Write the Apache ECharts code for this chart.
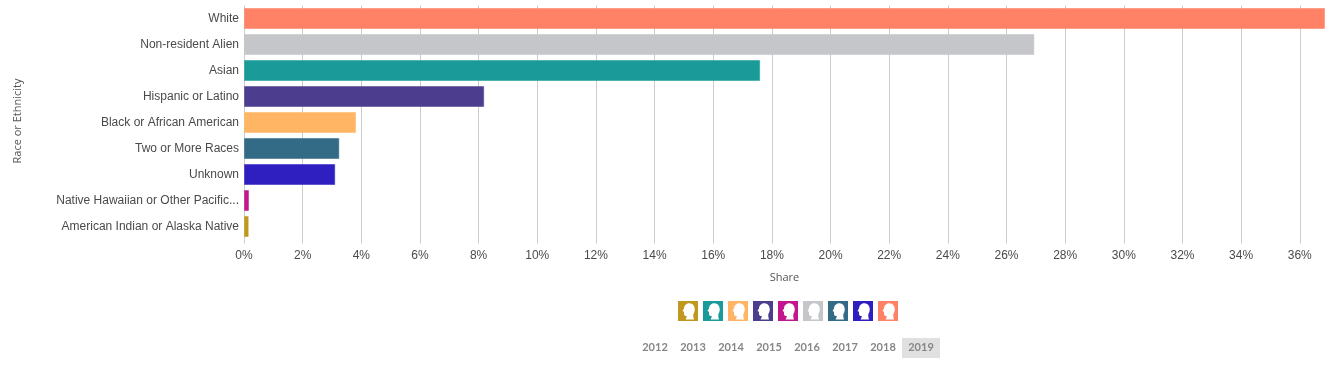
<!DOCTYPE html>
<html><head><meta charset="utf-8">
<style>html,body{margin:0;padding:0;background:#fff}#c{width:1338px;height:365px}</style>
<script src="https://cdn.jsdelivr.net/npm/echarts@6/dist/echarts.min.js"></script>
</head><body><div id="c"></div>
<script>
const categories = ['White','Non-resident Alien','Asian','Hispanic or Latino','Black or African American','Two or More Races','Unknown','Native Hawaiian or Other Pacific...','American Indian or Alaska Native'];
const shares = [36.86,26.95,17.6,8.19,3.82,3.25,3.11,0.17,0.16];
const colors = ['#FF8166','#C5C6CA','#1A9B9A','#4C3D8F','#FFB563','#336A85','#2F1FC0','#C4168C','#C1981F'];
const legendOrder = ['American Indian or Alaska Native','Asian','Black or African American','Hispanic or Latino','Native Hawaiian or Other Pacific...','Non-resident Alien','Two or More Races','Unknown','White'];
const years = ['2012','2013','2014','2015','2016','2017','2018','2019'];
const activeYear = '2019';
const headIcon = 'path://M0 0H20V20H0Z M7.5 18.5H16C15.4 16.5 15 14.5 15.4 13C16.8 11 17.2 8 16.2 5.5C15 2.6 12 1.6 9.5 2.5C7.1 3.4 6 5.5 6 7.5L4.5 10L6 10.8L6 13C6 14.5 7 15 8.8 15C8.8 16 8.2 17.5 7.5 18.5Z';
const font = '"Liberation Sans", Arial, sans-serif';
const nameFont = '"Open Sans", sans-serif';
const uiFont = 'Lato, sans-serif';

const chart = echarts.init(document.getElementById('c'), null, {renderer:'canvas'});
const series = categories.map((name,i)=>({
  name, type:'bar', barWidth:21, barGap:'-100%',
  data: categories.map((c,j)=> j===i ? shares[i] : null),
  itemStyle:{color:colors[i], borderColor:colors[i]+'80', borderWidth:1},
  animation:false, silent:true
}));
const yearGraphics = [];
years.forEach((y,i)=>{
  const cx = 655 + i*38;
  if (y===activeYear) yearGraphics.push({type:'rect',left:cx-19,top:338,shape:{width:38,height:20},style:{fill:'#e0e0e0'},z:1});
  yearGraphics.push({type:'text',x:cx,y:347.5,z:2,style:{text:y,fill:'#868686',font:'bold 11px '+uiFont,textAlign:'center',textVerticalAlign:'middle'}});
});
chart.setOption({
  animation:false,
  grid:{left:244,top:5.5,width:1081,height:234,containLabel:false,outerBoundsMode:'none'},
  xAxis:{type:'value',min:0,max:36.86,interval:2,
    name:'Share',nameLocation:'middle',nameGap:32.5,
    nameTextStyle:{fontFamily:nameFont,fontSize:11,color:'#555'},
    axisLine:{show:false},
    axisTick:{show:true,length:4,lineStyle:{color:'#ccc'}},
    axisLabel:{formatter:'{value}%',fontFamily:font,fontSize:12,color:'#4a4a4a',margin:10,showMaxLabel:false},
    splitLine:{show:true,showMaxLine:false,lineStyle:{color:'#ccc',width:1}}
  },
  yAxis:{type:'category',data:categories,inverse:true,
    name:'Race or Ethnicity',nameLocation:'middle',nameGap:221,
    nameTextStyle:{fontFamily:nameFont,fontSize:11,color:'#555',padding:[0,0,0,3]},
    axisLine:{show:false},axisTick:{show:false},
    axisLabel:{fontFamily:font,fontSize:12,color:'#4a4a4a',margin:5,interval:0,padding:[0,0,4,0]}
  },
  legend:{left:678,top:301,orient:'horizontal',itemWidth:20,itemHeight:20,itemGap:5,padding:0,
    icon:headIcon,selectedMode:false,
    data:legendOrder,
    formatter:()=>'',textStyle:{fontSize:1},
    itemStyle:{borderWidth:0}
  },
  graphic:yearGraphics,
  series
});
</script></body></html>
